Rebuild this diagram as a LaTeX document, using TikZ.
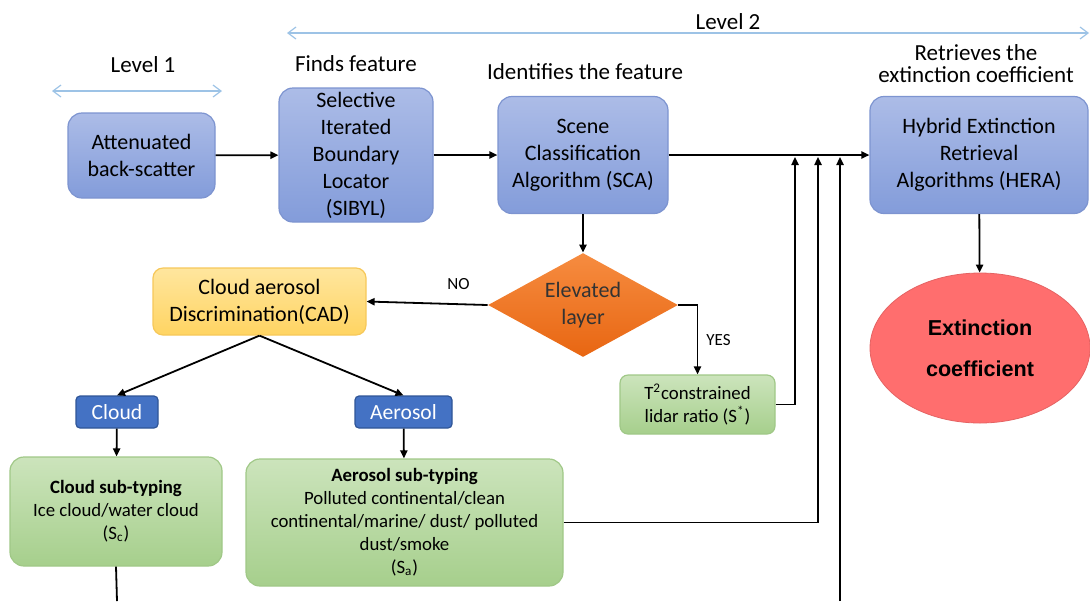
\documentclass[tikz,border=0pt]{standalone}
\usepackage{fontspec}
\setmainfont{Carlito}
\newfontfamily\arialfont{Liberation Sans}
\usetikzlibrary{arrows.meta,shapes.geometric}
\definecolor{lvlblue}{RGB}{157,195,230}
\definecolor{bluetop}{RGB}{172,188,231}
\definecolor{bluebot}{RGB}{131,156,218}
\definecolor{bluedge}{RGB}{125,148,208}
\definecolor{greentop}{RGB}{204,228,188}
\definecolor{greenbot}{RGB}{166,207,140}
\definecolor{greenedge}{RGB}{160,200,135}
\definecolor{cadtop}{RGB}{255,230,158}
\definecolor{cadbot}{RGB}{255,212,98}
\definecolor{cadedge}{RGB}{246,200,90}
\definecolor{orangetop}{RGB}{246,140,64}
\definecolor{orangebot}{RGB}{232,102,18}
\definecolor{tagblue}{RGB}{68,114,196}
\definecolor{tagedge}{RGB}{47,85,151}
\definecolor{extred}{RGB}{255,110,110}

\begin{document}
\begin{tikzpicture}[x=0.5pt,y=-0.5pt,
  bluebox/.style={draw=bluedge,line width=0.6pt,rounded corners=7pt,top color=bluetop,bottom color=bluebot,
    align=center,inner sep=0pt,font=\fontsize{11}{13.5}\selectfont},
  greenbox/.style={draw=greenedge,line width=0.6pt,rounded corners=7pt,top color=greentop,bottom color=greenbot,
    align=center,inner sep=0pt,font=\fontsize{9.4}{11.5}\selectfont},
  tagbox/.style={draw=tagedge,line width=0.6pt,rounded corners=2pt,fill=tagblue,text=white,
    inner sep=0pt,font=\fontsize{10.8}{13}\selectfont},
  heading/.style={align=center,font=\fontsize{11.5}{12}\selectfont},
  label/.style={inner sep=1pt,font=\fontsize{8.5}{10}\selectfont},
  arr/.style={-{Triangle[length=4pt,width=3.6pt]},line width=0.9pt},
  lvl/.style={{Straight Barb[length=4pt,width=6pt]}-{Straight Barb[length=4pt,width=6pt]},draw=lvlblue,line width=0.6pt}]
\useasboundingbox (0,0) rectangle (1090,601);

\node[heading] (lvltwo) at (728,22) {Level 2};
\node[heading] (lvlone) at (143,65) {Level 1};
\node[heading] (finds) at (356,64) {Finds feature};
\node[heading] (ident) at (585,72) {Identifies the feature};
\node[heading] (retr) at (976,64) {Retrieves the\\[-1pt]extinction coefficient};

\coordinate (lvltwoa) at (287,33);
\coordinate (lvltwob) at (1089,33);
\coordinate (lvlonea) at (52,91);
\coordinate (lvloneb) at (222,91);
\draw[lvl] (lvltwoa) -- (lvltwob);
\draw[lvl] (lvlonea) -- (lvloneb);

\node[bluebox,minimum width=73.5pt,minimum height=42.5pt] (att) at (141.5,155.5) {Attenuated\\back-scatter};
\node[bluebox,minimum width=77pt,minimum height=67pt] (sibyl) at (356,155) {Selective\\Iterated\\Boundary\\Locator\\(SIBYL)};
\node[bluebox,minimum width=85pt,minimum height=58.5pt] (sca) at (583,155) {Scene\\Classification\\Algorithm (SCA)};
\node[bluebox,minimum width=109pt,minimum height=58.5pt] (hera) at (979,155) {Hybrid Extinction\\Retrieval\\Algorithms (HERA)};

\node[diamond,aspect=1.83,minimum width=95pt,minimum height=52pt,inner sep=0pt,top color=orangetop,bottom color=orangebot,
  align=center,text=black!80,font=\fontsize{11}{13.5}\selectfont] (elev) at (583,305) {Elevated\\layer};

\node[draw=cadedge,line width=0.6pt,rounded corners=5pt,top color=cadtop,bottom color=cadbot,align=center,inner sep=0pt,
  minimum width=106.5pt,minimum height=33.5pt,font=\fontsize{11}{13.5}\selectfont] (cad) at (259.5,301.5) {Cloud aerosol\\Discrimination(CAD)};

\node[tagbox,minimum width=41pt,minimum height=16pt] (cloud) at (117,412) {Cloud};
\node[tagbox,minimum width=48.5pt,minimum height=16pt] (aerosol) at (403.5,412) {Aerosol};

\node[greenbox,minimum width=106pt,minimum height=54.5pt] (cloudsub) at (116,511.5)
  {\textbf{Cloud sub-typing}\\Ice cloud/water cloud\\(S\textsubscript{c})};
\node[greenbox,minimum width=158.5pt,minimum height=63.5pt] (aerosolsub) at (404.5,522.5)
  {\textbf{Aerosol sub-typing}\\Polluted continental/clean\\continental/marine/ dust/ polluted\\dust/smoke\\(S\textsubscript{a})};
\node[greenbox,rounded corners=4pt,minimum width=77.5pt,minimum height=29.5pt] (tsq) at (697.5,404.5)
  {T\textsuperscript{2}constrained\\lidar ratio (S\textsuperscript{*})};

\node[ellipse,draw=extred!90!black,line width=0.4pt,fill=extred,minimum width=110pt,minimum height=75pt,inner sep=0pt,
  align=center,font=\arialfont\bfseries\fontsize{10.8}{20.5}\selectfont] (ext) at (980,348) {Extinction\\coefficient};

\coordinate (jtsq) at (795,157);
\coordinate (jaer) at (818,157);
\coordinate (jlow) at (840,157);
\coordinate (lowend) at (840,601);
\coordinate (cloudend) at (117,601);

\draw[arr] (att) -- (sibyl);
\draw[arr] (sibyl) -- (sca);
\draw[arr] (sca) -- (hera);
\draw[arr] (sca) -- (elev);
\draw[arr] (elev.west) -- (cad.east) node[label,pos=0.24,above=6pt] {NO};
\draw[arr] (elev.east) -| (tsq.north) node[label,pos=0.75,right=3pt] {YES};
\draw[arr] (cad.south) -- (cloud.north);
\draw[arr] (cad.south) -- (aerosol.north);
\draw[arr] (cloud) -- (cloudsub);
\draw[arr] (aerosol) -- (aerosolsub);
\draw[arr] (hera) -- (ext);
\draw[arr] (tsq.east) -| (jtsq);
\draw[arr] (aerosolsub.east) -| (jaer);
\draw[arr] (lowend) -- (jlow);
\draw[line width=0.9pt] (cloudsub.south) -- (cloudend);
\end{tikzpicture}
\end{document}
